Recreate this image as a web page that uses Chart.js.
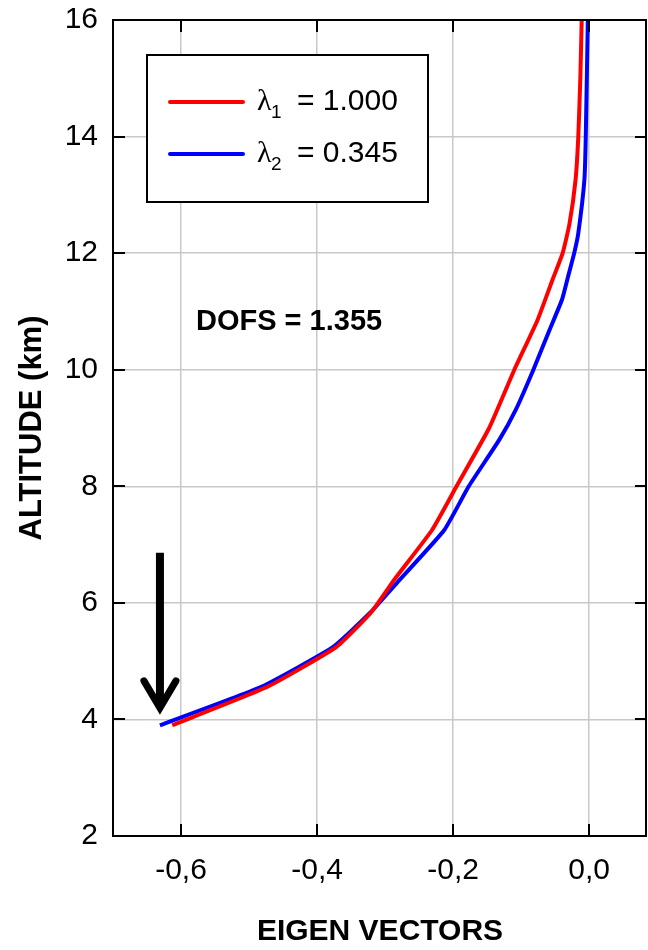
<!DOCTYPE html>
<html>
<head>
<meta charset="utf-8">
<title>Eigen vectors</title>
<script src="https://cdn.jsdelivr.net/npm/chart.js@4.4.1/dist/chart.umd.min.js"></script>
<style>
    html, body { margin: 0; padding: 0; background: #fff; }
    #wrap { width: 648px; height: 950px; position: relative; }
</style>
</head>
<body>
<div id="wrap"><canvas id="eigenChart"></canvas></div>
<script>
// Values: altitude (km) vs eigen vector component
const redAlt  = [3.9, 4.56, 5.24, 5.83, 6.39, 7.25, 8.0, 9.0, 10.0, 10.85, 11.54, 12.0, 12.5, 13.26, 14.0, 15.0, 16.0];
const redVec  = [-0.613, -0.473, -0.372, -0.321, -0.287, -0.231, -0.195, -0.147, -0.110, -0.076, -0.054, -0.039, -0.029, -0.020, -0.016, -0.013, -0.011];
const blueAlt = [3.9, 4.56, 5.24, 5.83, 6.39, 7.25, 8.0, 8.8, 9.31, 10.0, 10.69, 11.2, 11.6, 12.0, 12.34, 13.26, 14.0, 16.0];
const blueVec = [-0.631, -0.482, -0.377, -0.322, -0.279, -0.213, -0.177, -0.132, -0.108, -0.082, -0.058, -0.040, -0.031, -0.022, -0.016, -0.007, -0.005, -0.002];

const seriesSub = ['1', '2'];
const seriesLambda = ['1.000', '0.345'];
const seriesColors = ['#ff0000', '#0000ff'];
const dofsText = 'DOFS = 1.355';

const xTicks = [-0.6, -0.4, -0.2, 0.0];
const yTicks = [2, 4, 6, 8, 10, 12, 14, 16];

// arrow pointing down at the lowest level
const arrow = { x: -0.631, from: 6.86, to: 4.13 };

function toPoints(xs, ys) {
    return xs.map((v, i) => ({ x: v, y: ys[i] }));
}

const framePlugin = {
    id: 'frame',
    afterDatasetsDraw(chart) {
        const { ctx, chartArea: a, scales } = chart;
        const xs = scales.x, ys = scales.y;
        ctx.save();

        // box round the plot
        ctx.strokeStyle = '#000';
        ctx.lineWidth = 2;
        ctx.strokeRect(a.left, a.top, a.right - 1 - a.left, a.bottom - a.top);

        // inward ticks on every side
        ctx.beginPath();
        xTicks.forEach(t => {
            const px = Math.round(xs.getPixelForValue(t));
            ctx.moveTo(px, a.bottom); ctx.lineTo(px, a.bottom - 12);
            ctx.moveTo(px, a.top); ctx.lineTo(px, a.top + 12);
        });
        yTicks.forEach(t => {
            const py = Math.round(ys.getPixelForValue(t));
            ctx.moveTo(a.left, py); ctx.lineTo(a.left + 12, py);
            ctx.moveTo(a.right, py); ctx.lineTo(a.right - 12, py);
        });
        ctx.stroke();

        // legend box
        const lx = a.left + 34, ly = a.top + 35;
        ctx.fillStyle = '#fff';
        ctx.fillRect(lx, ly, 281, 147);
        ctx.strokeRect(lx, ly, 281, 147);
        seriesSub.forEach((sub, i) => {
            const base = ly + 55 + i * 52;
            ctx.strokeStyle = seriesColors[i];
            ctx.lineWidth = 4;
            ctx.lineCap = 'round';
            ctx.beginPath();
            ctx.moveTo(lx + 23, base - 8);
            ctx.lineTo(lx + 96, base - 8);
            ctx.stroke();
            ctx.fillStyle = '#000';
            ctx.textBaseline = 'alphabetic';
            ctx.textAlign = 'left';
            ctx.font = '30px "Liberation Serif"';
            ctx.fillText('\u03bb', lx + 110, base);
            ctx.font = '19px "Liberation Sans"';
            ctx.fillText(sub, lx + 124, base + 8);
            ctx.font = '30px "Liberation Sans"';
            ctx.fillText('= ' + seriesLambda[i], lx + 150, base);
        });

        // DOFS note
        ctx.fillStyle = '#000';
        ctx.font = 'bold 29px "Liberation Sans"';
        ctx.textAlign = 'left';
        ctx.textBaseline = 'middle';
        ctx.fillText(dofsText, xs.getPixelForValue(-0.578), ys.getPixelForValue(10.82));

        // arrow
        const ax = xs.getPixelForValue(arrow.x);
        const ay1 = ys.getPixelForValue(arrow.from);
        const ay2 = ys.getPixelForValue(arrow.to);
        ctx.strokeStyle = '#000';
        ctx.lineWidth = 8;
        ctx.lineCap = 'butt';
        ctx.beginPath();
        ctx.moveTo(ax, ay1);
        ctx.lineTo(ax, ay2 - 6);
        ctx.stroke();
        ctx.lineCap = 'round';
        ctx.lineJoin = 'miter';
        ctx.lineWidth = 7;
        ctx.beginPath();
        ctx.moveTo(ax - 16, ay2 - 31);
        ctx.lineTo(ax, ay2 - 4);
        ctx.lineTo(ax + 16, ay2 - 31);
        ctx.stroke();

        ctx.restore();
    }
};

const ctx = document.getElementById('eigenChart');
new Chart(ctx, {
    type: 'line',
    data: {
        datasets: [{
            label: 'lambda1',
            data: toPoints(redVec, redAlt),
            borderColor: seriesColors[0],
            borderWidth: 4,
            pointRadius: 0,
            tension: 0.15
        }, {
            label: 'lambda2',
            data: toPoints(blueVec, blueAlt),
            borderColor: seriesColors[1],
            borderWidth: 4,
            pointRadius: 0,
            tension: 0.15
        }]
    },
    options: {
        responsive: true,
        maintainAspectRatio: false,
        animation: false,
        devicePixelRatio: 1,
        layout: { padding: { top: 20, right: 1, left: 0, bottom: 0 } },
        plugins: {
            legend: { display: false },
            tooltip: { enabled: false }
        },
        scales: {
            x: {
                type: 'linear',
                min: -0.7,
                max: 0.085,
                afterFit: s => { s.height = 114; s.paddingLeft = 0; s.paddingRight = 0; },
                afterBuildTicks: s => { s.ticks = xTicks.map(v => ({ value: v })); },
                border: { display: false },
                grid: { color: '#c8c8c8', lineWidth: 1.5, drawTicks: false },
                ticks: {
                    padding: 17,
                    color: '#000',
                    maxRotation: 0,
                    font: { family: '"Liberation Sans"', size: 30 },
                    callback: v => v.toFixed(1).replace('.', ',')
                },
                title: {
                    display: true,
                    text: 'EIGEN VECTORS',
                    color: '#000',
                    padding: { top: 0, bottom: 0 },
                    font: { family: '"Liberation Sans"', size: 30, weight: 'bold' }
                }
            },
            y: {
                type: 'linear',
                min: 2,
                max: 16,
                afterFit: s => { s.width = 113; s.paddingTop = 0; s.paddingBottom = 0; },
                afterBuildTicks: s => { s.ticks = yTicks.map(v => ({ value: v })); },
                border: { display: false },
                grid: { color: '#c8c8c8', lineWidth: 1.5, drawTicks: false },
                ticks: {
                    padding: 15,
                    color: '#000',
                    font: { family: '"Liberation Sans"', size: 30 }
                },
                title: {
                    display: true,
                    text: 'ALTITUDE (km)',
                    color: '#000',
                    padding: { top: 14, bottom: 0 },
                    font: { family: '"Liberation Sans"', size: 31, weight: 'bold' }
                }
            }
        }
    },
    plugins: [framePlugin]
});
</script>
</body>
</html>
